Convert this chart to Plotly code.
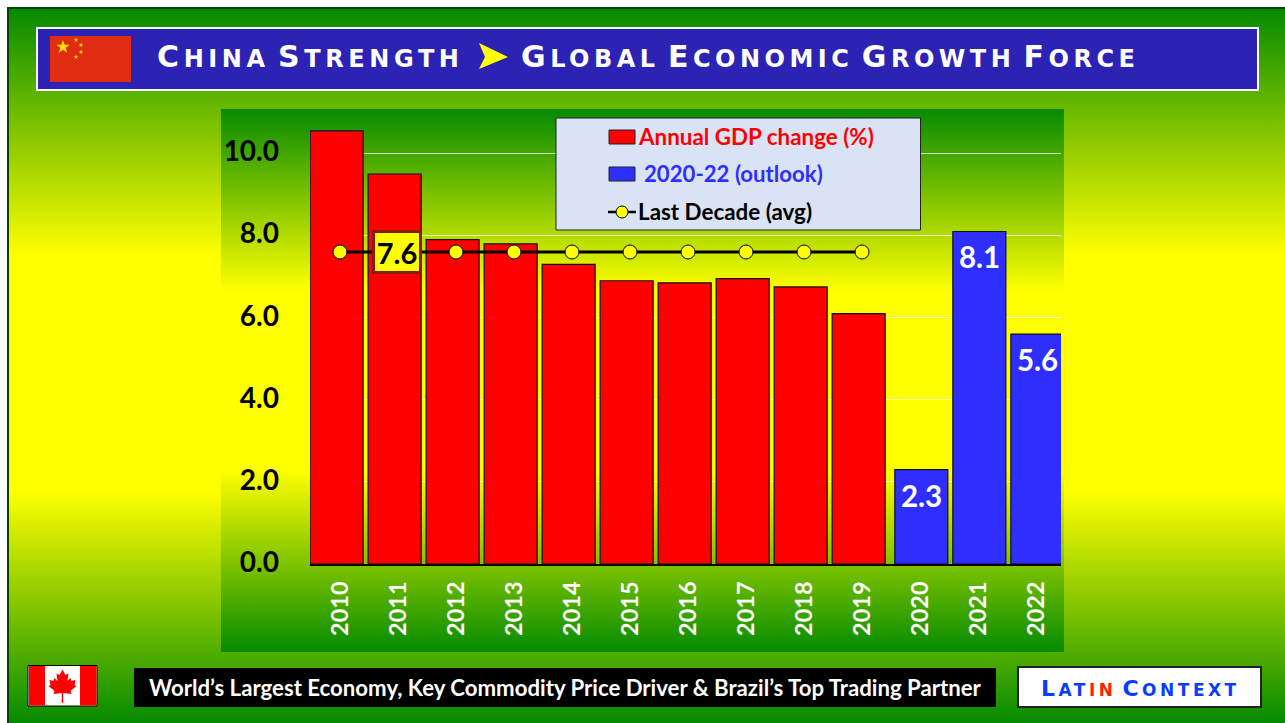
import base64, math
import plotly.graph_objects as go

years = ["2010","2011","2012","2013","2014","2015","2016","2017","2018","2019","2020","2021","2022"]
actual = [10.55,9.5,7.9,7.8,7.3,6.9,6.85,6.95,6.75,6.1,None,None,None]
outlook = [None]*10 + [2.3,8.1,5.6]
avg_years = years[:10]
avg_values = [7.6]*10
y_ticks = [0,2,4,6,8,10]
y_tick_labels = ["0.0","2.0","4.0","6.0","8.0","10.0"]

W, H = 1285, 723
def X(p): return p/W
def Y(p): return 1-p/H

svg = f'''<svg xmlns="http://www.w3.org/2000/svg" width="{W}" height="{H}" viewBox="0 0 {W} {H}">
<defs>
<linearGradient id="a" gradientUnits="userSpaceOnUse" x1="0" y1="9" x2="0" y2="723">
<stop offset="0" stop-color="#058a00"/><stop offset="0.345" stop-color="#ffff00"/>
<stop offset="0.675" stop-color="#ffff00"/><stop offset="1" stop-color="#058a00"/></linearGradient>
<linearGradient id="b" gradientUnits="userSpaceOnUse" x1="0" y1="109" x2="0" y2="652">
<stop offset="0" stop-color="#058a00"/><stop offset="0.335" stop-color="#ffff00"/>
<stop offset="0.665" stop-color="#ffff00"/><stop offset="1" stop-color="#058a00"/></linearGradient>
</defs>
<rect width="{W}" height="{H}" fill="#fff"/>
<rect x="7" y="7" width="{W}" height="{H}" fill="#063f06"/>
<rect x="9" y="9" width="{W}" height="{H}" fill="url(#a)"/>
<rect x="221" y="109" width="843" height="543" fill="url(#b)"/>
</svg>'''
bg = "data:image/svg+xml;base64," + base64.b64encode(svg.encode()).decode()

shapes, ann = [], []
def rect(x0,y0,x1,y1,fill,line=None,lw=0):
    shapes.append(dict(type="rect",xref="paper",yref="paper",x0=X(x0),x1=X(x1),y0=Y(y1),y1=Y(y0),
                       fillcolor=fill,line=dict(color=line or fill,width=lw),layer="above"))
def poly(pts,fill):
    d = "M"+"L".join(f"{X(a):.5f},{Y(b):.5f}" for a,b in pts)+"Z"
    shapes.append(dict(type="path",xref="paper",yref="paper",path=d,fillcolor=fill,line=dict(width=0),layer="above"))
def star(cx,cy,r,fill):
    pts=[]
    for i in range(10):
        rr = r if i%2==0 else r*0.4
        a = -math.pi/2+i*math.pi/5
        pts.append((cx+rr*math.cos(a),cy+rr*math.sin(a)))
    poly(pts,fill)
def text(x,y,t,size,color,anchor="left",font="Lato",bold=True,**kw):
    ann.append(dict(xref="paper",yref="paper",x=X(x),y=Y(y),text=f"<b>{t}</b>" if bold else t,showarrow=False,
                    xanchor=anchor,yanchor="middle",font=dict(family=font,size=size,color=color),**kw))

# title banner
rect(37,28,1258,90,"#2c22b4","#ffffff",2)
rect(50,36,131,82,"#e02c10")
star(63,47,7,"#ffe000")
for sx,sy in [(76,40),(81,45),(81,52),(76,57)]:
    star(sx,sy,2.4,"#ffe000")
def smallcaps(s, big, small, spacing):
    out=[]
    for w in s.split(" "):
        out.append(f'<span style="font-size:{big}px;letter-spacing:{spacing}px">{w[0]}</span>'
                   f'<span style="font-size:{small}px;letter-spacing:{spacing}px">{w[1:].upper()}</span>')
    return " ".join(out)
text(155,57,smallcaps("China Strength",30,24,4.6),24,"#ffffff",font="DejaVu Sans")
text(519,57,smallcaps("Global Economic Growth Force",30,24,4.5),24,"#ffffff",font="DejaVu Sans")
poly([(479,43),(508,57),(479,69),(485,57)],"#ffff00")

# footer
rect(28,665.5,97,706,"#ffffff","#000000",1)
rect(29,666,45,705.5,"#ff0000")
rect(80,666,96.5,705.5,"#ff0000")
cx=62.5
leaf_r=[(0,669.5),(3,675),(6,673.5),(5,681),(8,678),(9,681),(13,680),(12,685),(14,686),(8,691),(9,694),(0.7,693),(0.7,703)]
leaf = [(cx+a,b) for a,b in leaf_r]+[(cx-a,b) for a,b in reversed(leaf_r)]
poly(leaf,"#ff0000")
rect(134,668,996,707,"#000000")
text(565,687,"World’s Largest Economy, Key Commodity Price Driver &amp; Brazil’s Top Trading Partner",22.2,"#ffffff",anchor="center")
rect(1018,667,1261,707,"#ffffff","#222222",2)
sp = "letter-spacing:3.5px"
text(1039,688,f'<span style="font-size:22px;{sp}">L</span><span style="font-size:17px;{sp}">AT<span style="fill:#ff2000">IN</span></span> '
     f'<span style="font-size:22px;{sp}">C</span><span style="font-size:17px;{sp}">ONTEXT</span>',17,"#0a3cff",font="DejaVu Sans")

# legend box
rect(556,118,920.5,230,"#dae3f3","#222222",1)
rect(609,130,635,144,"#ff0000","#222222",1)
rect(609,167,635,181,"#2e2eff","#222222",1)
shapes.append(dict(type="line",xref="paper",yref="paper",x0=X(608),x1=X(636),y0=Y(212),y1=Y(212),line=dict(color="#000",width=2.5),layer="above"))
shapes.append(dict(type="circle",xref="paper",yref="paper",x0=X(616),x1=X(628),y0=Y(218),y1=Y(206),fillcolor="#ffff00",line=dict(color="#000",width=1),layer="above"))
text(636,136,"Annual GDP change (%)",22.4,"#ff0000")
text(642,173,"2020-22 (outlook)",22.2,"#2e2eff")
text(636,211,"Last Decade (avg)",22.4,"#000000")

fig = go.Figure()
fig.add_bar(x=years,y=actual,name="Annual GDP change (%)",marker=dict(color="#ff0000",line=dict(color="#111",width=1.2)),width=0.914,offset=-0.515)
fig.add_bar(x=years,y=outlook,name="2020-22 (outlook)",marker=dict(color="#2e2eff",line=dict(color="#111",width=1.2)),width=0.914,offset=-0.435)
fig.add_scatter(x=avg_years,y=avg_values,mode="lines+markers",name="Last Decade (avg)",
                line=dict(color="#000",width=3),marker=dict(color="#ffff00",size=14,line=dict(color="#000",width=1)))

# data labels
for i,v in enumerate(outlook):
    if v is not None:
        ann.append(dict(x=i,y=v,xref="x",yref="y",text=f"<b>{v:.1f}</b>",showarrow=False,yanchor="top",yshift=-6,xshift=1.5,
                        font=dict(family="Lato",size=29.5,color="#ffffff")))
ann.append(dict(x=1,y=7.6,xref="x",yref="y",text="<b>7.6</b>",showarrow=False,xshift=-1,font=dict(family="Lato",size=29,color="#000"),
                bgcolor="#ffff00",bordercolor="#8b1a10",borderwidth=3,borderpad=2,width=40,height=34))

fig.update_layout(
    width=W,height=H,autosize=False,margin=dict(l=0,r=0,t=0,b=0,pad=0,autoexpand=False),
    paper_bgcolor="rgba(0,0,0,0)",plot_bgcolor="rgba(0,0,0,0)",barmode="overlay",showlegend=False,
    images=[dict(source=bg,xref="paper",yref="paper",x=0,y=1,sizex=1,sizey=1,xanchor="left",yanchor="top",sizing="stretch",layer="below")],
    shapes=shapes,annotations=ann,
    xaxis=dict(domain=[X(310),X(1061)],type="category",categoryorder="array",categoryarray=years,range=[-0.517,12.43],
               showgrid=False,showline=True,linecolor="#000",linewidth=2,ticks="",tickangle=-90,ticklabelstandoff=6,
               tickfont=dict(family="Lato",size=23.5,color="#ffffff",weight="bold")),
    yaxis=dict(domain=[Y(564),Y(125)],range=[0,10.694],tickvals=y_ticks,ticktext=y_tick_labels,
               showgrid=True,gridcolor="rgba(255,255,255,0.75)",gridwidth=1,zeroline=False,showline=False,
               ticks="",ticklabelstandoff=30,ticklabelshift=-2,tickfont=dict(family="Lato",size=28,color="#000",weight="bold")),
)
fig.write_html("out.html",config=dict(displayModeBar=False),post_script="document.body.style.margin='0';document.body.style.overflow='hidden';")
